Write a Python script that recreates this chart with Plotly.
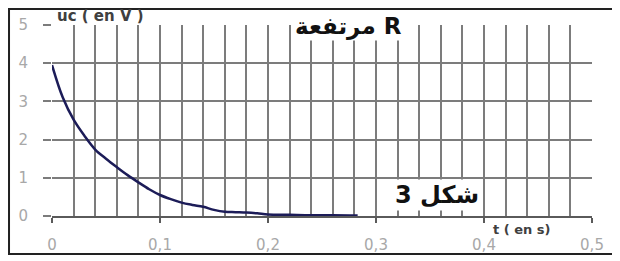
import plotly.graph_objects as go

# data
t_s = [0.0, 0.01, 0.02, 0.03, 0.04, 0.05, 0.06, 0.07, 0.08, 0.09, 0.10, 0.11,
       0.12, 0.13, 0.14, 0.15, 0.16, 0.17, 0.18, 0.19, 0.20, 0.22, 0.24, 0.26, 0.283]
uc_V = [3.95, 3.1, 2.52, 2.1, 1.74, 1.5, 1.28, 1.07, 0.88, 0.7, 0.55, 0.44,
        0.35, 0.29, 0.24, 0.16, 0.11, 0.10, 0.09, 0.07, 0.04, 0.03, 0.02, 0.02, 0.01]

x_tick_vals = [0, 0.1, 0.2, 0.3, 0.4, 0.5]
x_tick_text = ["0", "0,1", "0,2", "0,3", "0,4", "0,5"]
y_tick_vals = [0, 1, 2, 3, 4, 5]
y_tick_text = ["0", "1", "2", "3", "4", "5"]

title_text = "مرتفعة R"
fig_label = "شكل 3"
y_title = "uc\u00a0(\u00a0en\u00a0V\u00a0)"
x_title = "t\u00a0(\u00a0en\u00a0s)"

grid_col = "#7c7c7c"
lab_col = "#a8a8a8"
font_lat = "DejaVu Sans, Verdana, sans-serif"

fig = go.Figure()
fig.add_trace(go.Scatter(x=t_s, y=uc_V, mode="lines",
                         line=dict(color="#1c1c58", width=2.5, shape="spline"),
                         showlegend=False, hoverinfo="skip"))

fig.update_layout(
    width=612, height=253,
    margin=dict(l=44, r=28, t=17, b=45),
    paper_bgcolor="white", plot_bgcolor="white",
    font=dict(family=font_lat),
    xaxis=dict(range=[0, 0.5], tickvals=x_tick_vals, ticktext=x_tick_text,
               showgrid=True, gridcolor=grid_col, gridwidth=1.5,
               minor=dict(dtick=0.02, showgrid=True, gridcolor=grid_col, gridwidth=1.5),
               showline=True, linecolor="#5a5a5a", linewidth=2,
               ticks="outside", ticklen=5, tickcolor="#5a5a5a", tickwidth=1.5,
               tickfont=dict(size=15, color=lab_col), ticklabelstandoff=9,
               zeroline=False, fixedrange=True, automargin=False),
    yaxis=dict(range=[0, 5], tickvals=y_tick_vals, ticktext=y_tick_text,
               showgrid=True, gridcolor=grid_col, gridwidth=1.5,
               showline=False,
               ticks="outside", ticklen=8, tickcolor=grid_col, tickwidth=1.5,
               tickfont=dict(size=15, color=lab_col), ticklabelstandoff=12,
               zeroline=False, fixedrange=True, automargin=False),
)

# outer frame
fig.add_shape(type="rect", xref="paper", yref="paper",
              x0=-0.0796, x1=1.0463, y0=-0.199, y1=1.0838,
              line=dict(color="#222222", width=2), fillcolor="rgba(0,0,0,0)")

fig.add_annotation(xref="paper", yref="paper", x=0.0056, y=1.047, xanchor="left", yanchor="middle",
                   text="<b>" + y_title + "</b>", showarrow=False,
                   font=dict(size=15, color="#404040", family=font_lat))
fig.add_annotation(xref="paper", yref="paper", x=0.65, y=0.99, xanchor="right", yanchor="middle",
                   text="<b>" + title_text + "</b>", showarrow=False, bgcolor="white",
                   borderpad=0,
                   font=dict(size=23, color="#111111", family="DejaVu Sans"))
fig.add_annotation(xref="paper", yref="paper", x=0.794, y=0.11, xanchor="right", yanchor="middle",
                   text="<b>" + fig_label + "</b>", showarrow=False, bgcolor="white",
                   borderpad=1,
                   font=dict(size=24, color="#111111", family="DejaVu Sans"))
fig.add_annotation(xref="paper", yref="paper", x=0.813, y=-0.073, xanchor="left", yanchor="middle",
                   text="<b>" + x_title + "</b>", showarrow=False,
                   font=dict(size=13, color="#404040", family=font_lat))

fig.write_html("out.html")
